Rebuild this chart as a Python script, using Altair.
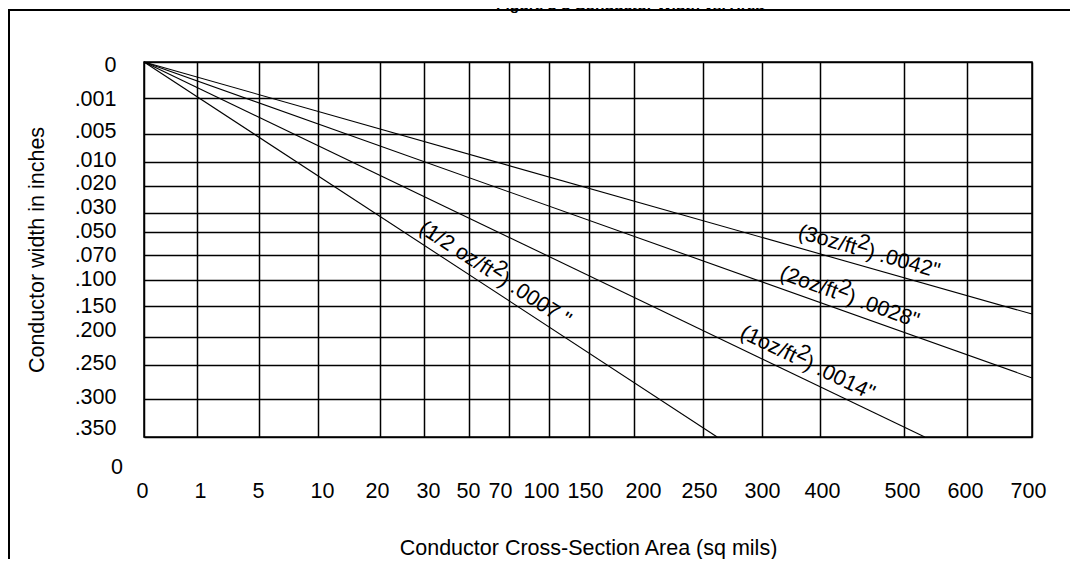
import altair as alt
import pandas as pd

# --- grid / axis definitions (irregular, as printed) ---
x_ticks = [0, 1, 5, 10, 20, 30, 50, 70, 100, 150, 200, 250, 300, 400, 500, 600, 700]
x_grid_px = [0, 53, 115, 174, 236, 280, 325, 365, 405, 445, 490, 559, 618, 676, 760, 823, 888]
y_ticks = [0, 0.001, 0.005, 0.010, 0.020, 0.030, 0.050, 0.070, 0.100, 0.150, 0.200, 0.250, 0.300, 0.350]
y_grid_px = [0, 36, 72, 100, 124, 151, 170, 193, 218, 244, 275, 303, 337, 375]

# printed tick labels sit slightly off their grid lines (pixel nudges)
x_label_nudge = [-2, 3, -1, 4, -3, 4, -1, -9, -8, -4, 9, -4, 0, 2, -2, -2, -4]
y_label_nudge = [3, 1, -3, -2, -3, -6, -1, 0, -1, 0, -7, -2, -2, -9]

# --- series: straight lines from origin to end point ---
series = ["1/2 oz", "1 oz", "2 oz", "3 oz"]
end_area = [262, 533, 700, 700]
end_width = [0.350, 0.350, 0.269, 0.163]

# --- line labels ---
label_pre = ["(1/2 oz/ft", "(1oz/ft", "(2oz/ft", "(3oz/ft"]
label_sup = ["2", "2", "2", "2"]
label_post = [") .0007 \"", ") .0014\"", ") .0028\"", ") .0042\""]
label_area = [57, 346, 414, 438]
label_width = [0.109, 0.259, 0.152, 0.0796]
label_angle = [33, 25.6, 19.6, 15.9]

title_text = "Figure 3-3 Conductor Width vs. Area"
x_title = "Conductor Cross-Section Area (sq mils)"
y_title = "Conductor width in inches"

FONT = "Liberation Sans"
FS = 21.5


def nudge(values, offsets):
    conds = [{"test": f"abs(datum.value - {v}) < 1e-9", "value": o}
             for v, o in zip(values, offsets) if o != 0]
    return {"condition": conds, "value": 0}


rows = []
for s, xa, yw in zip(series, end_area, end_width):
    rows.append({"series": s, "order": 0, "area": 0, "width": 0.0})
    rows.append({"series": s, "order": 1, "area": xa, "width": yw})
lines_df = pd.DataFrame(rows)

labels_df = pd.DataFrame({
    "area": label_area, "width": label_width, "angle": label_angle,
    "pre": label_pre, "sup": label_sup, "post": label_post,
})

xscale = alt.Scale(domain=x_ticks, range=x_grid_px)
yscale = alt.Scale(domain=y_ticks, range=y_grid_px)

lines = alt.Chart(lines_df).mark_line(color="black", strokeWidth=1.1).encode(
    x=alt.X("area:Q", scale=xscale,
            axis=alt.Axis(values=x_ticks, tickCount=40, grid=True, ticks=False, domain=False,
                          labelPadding=43, labelFontSize=FS, labelFont=FONT,
                          labelOffset=nudge(x_ticks, x_label_nudge),
                          format="d", title=x_title, titleFontSize=FS,
                          titleFont=FONT, titleFontWeight="normal", titlePadding=36,
                          labelOverlap=False, labelFlush=False)),
    y=alt.Y("width:Q", scale=yscale,
            axis=alt.Axis(values=y_ticks, tickCount=40, grid=True, ticks=False, domain=False,
                          labelPadding=28, labelFontSize=FS, labelFont=FONT,
                          labelOffset=nudge(y_ticks, y_label_nudge),
                          labelExpr="datum.value == 0 ? '0' : replace(format(datum.value, '.3f'), '0.', '.')",
                          title=y_title, titleFontSize=FS, titleFont=FONT,
                          titleFontWeight="normal", titlePadding=26,
                          labelOverlap=False, labelFlush=False)),
    detail="series:N",
    order="order:Q",
)

base_txt = alt.Chart(labels_df).encode(
    x=alt.X("area:Q"), y=alt.Y("width:Q"),
    angle=alt.Angle("angle:Q", scale=None),
)
pre = base_txt.mark_text(align="right", baseline="alphabetic", dy=-9,
                         font=FONT, fontSize=FS, color="black").encode(text="pre:N")
sup = base_txt.mark_text(align="left", baseline="alphabetic", dy=-16.5,
                         font=FONT, fontSize=FS, color="black").encode(text="sup:N")
post = base_txt.mark_text(align="left", baseline="alphabetic", dx=0.556 * FS, dy=-9,
                          font=FONT, fontSize=FS, color="black").encode(text="post:N")

one = pd.DataFrame({"t": [title_text]})
frame = alt.Chart(one).mark_rect(filled=False, stroke="black", strokeWidth=2, clip=False).encode(
    x=alt.value(-135), x2=alt.value(1200), y=alt.value(-52), y2=alt.value(800))
title = alt.Chart(one).mark_text(font=FONT, fontSize=15.5, fontWeight="bold", align="center",
                                 baseline="alphabetic", color="black").encode(
    x=alt.value(486), y=alt.value(-52.5), text="t:N")
zero = alt.Chart(pd.DataFrame({"t": ["0"]})).mark_text(
    font=FONT, fontSize=FS, align="right", baseline="middle", color="black").encode(
    x=alt.value(-21), y=alt.value(406), text="t:N")

chart = alt.layer(lines, pre, sup, post, frame, title, zero).properties(
    width=888, height=375,
    autosize=alt.AutoSizeParams(type="none"),
    padding={"left": 136, "top": 54, "right": 38, "bottom": 122},
).configure_view(stroke="black", strokeWidth=1.5).configure_axis(
    gridColor="black", gridWidth=1.5, gridOpacity=1, labelColor="black", titleColor="black",
)

chart.save("out.html", embed_options={"renderer": "svg", "actions": False})
